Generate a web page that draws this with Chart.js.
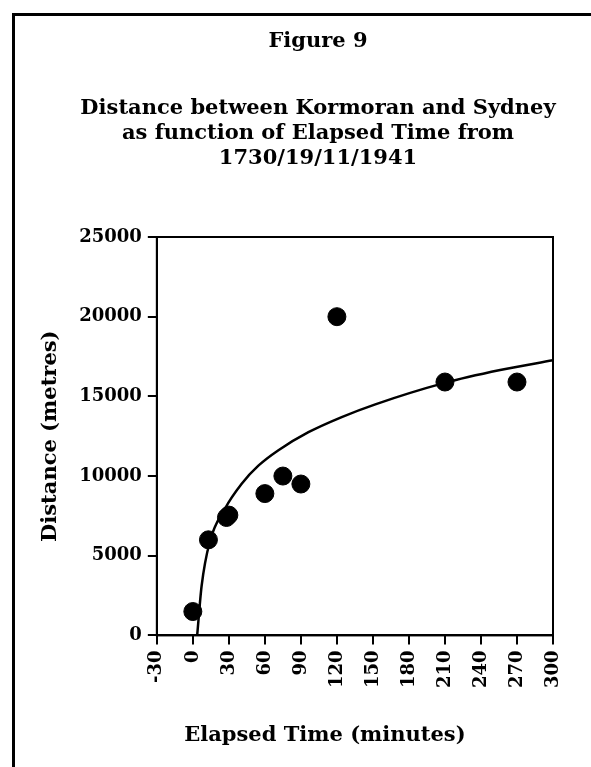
<!DOCTYPE html>
<html>
<head>
<meta charset="utf-8">
<script src="https://cdn.jsdelivr.net/npm/chart.js@4/dist/chart.umd.min.js"></script>
<style>
  html, body { margin: 0; padding: 0; background: #fff; }
  #wrap { position: relative; width: 591px; height: 767px; overflow: hidden; }
  #frame { position: absolute; left: 12px; top: 13px; width: 700px; height: 900px;
           border-left: 3px solid #000; border-top: 3px solid #000; }
  #fig { position: absolute; left: 0; top: 0; }
</style>
</head>
<body>
<div id="wrap">
  <div id="frame"></div>
  <canvas id="fig" width="591" height="767"></canvas>
</div>
<script>
//------------------------------------------------------------------------------
// observed distances
var times = [0, 13, 28, 30, 60, 75, 90, 120, 210, 270];
var distances = [1500, 6000, 7400, 7550, 8900, 10000, 9500, 20000, 15900, 15900];

// fitted curve
var fitTimes = [3.6, 7.3, 14, 26.7, 40.7, 54.6, 71.3, 96.3, 124, 152, 209, 256, 300];
var fitDistances = [0, 3100, 5850, 7950, 9520, 10650, 11620, 12750, 13700, 14500, 15830, 16650, 17270];

var xTicks = [-30, 0, 30, 60, 90, 120, 150, 180, 210, 240, 270, 300];
var yTicks = [0, 5000, 10000, 15000, 20000, 25000];

var figTitle = "Figure 9";
var figSubtitle = ["Distance between Kormoran and Sydney",
                   "as function of Elapsed Time from",
                   "1730/19/11/1941"];
var xTitle = "Elapsed Time (minutes)";
var yTitle = "Distance (metres)";
//------------------------------------------------------------------------------

var serif = "'DejaVu Serif', 'Liberation Serif', serif";

function pairs(xs, ys) {
  return xs.map(function(x, i) { return {x: x, y: ys[i]}; });
}

// heading block, box round the plot and x axis title.
// the original centres its headings on the page frame, not on the plot
var framePlugin = {
  id: 'frame',
  afterDraw: function(chart) {
    var ctx = chart.ctx, a = chart.chartArea;
    ctx.save();
    ctx.strokeStyle = '#000';
    ctx.lineWidth = 2;
    ctx.strokeRect(a.left, a.top, a.right - a.left, a.bottom - a.top);

    ctx.fillStyle = '#000';
    ctx.font = 'bold 21px ' + serif;
    ctx.textAlign = 'center';
    ctx.textBaseline = 'middle';
    var cx = 318;
    ctx.fillText(figTitle, cx, 42);
    figSubtitle.forEach(function(line, i) {
      ctx.fillText(line, cx, 109 + i * 25);
    });
    ctx.fillText(xTitle, (a.left + a.right) / 2 - 30, a.bottom + 100);
    ctx.restore();
  }
};

window.onload = function() {
  var ctx = document.getElementById("fig");
  var chart = new Chart(ctx, {
    type: 'scatter',
    data: {
      datasets: [{
        label: 'Observed',
        data: pairs(times, distances),
        backgroundColor: '#000',
        borderColor: '#000',
        pointRadius: 9,
        pointHoverRadius: 9
      }, {
        label: 'Fit',
        data: pairs(fitTimes, fitDistances),
        showLine: true,
        borderColor: '#000',
        borderWidth: 2.5,
        pointRadius: 0,
        cubicInterpolationMode: 'monotone',
        fill: false
      }]
    },
    options: {
      responsive: false,
      devicePixelRatio: 1,
      animation: false,
      layout: { padding: { left: 38, right: 38, top: 237, bottom: 73 } },
      plugins: {
        legend: { display: false },
        tooltip: { enabled: false }
      },
      scales: {
        x: {
          type: 'linear',
          min: -30,
          max: 300,
          afterBuildTicks: function(s) { s.ticks = xTicks.map(function(v) { return {value: v}; }); },
          ticks: {
            color: '#000',
            font: { family: serif, size: 18, weight: 'bold' },
            minRotation: 90,
            maxRotation: 90,
            padding: 6,
            callback: function(v) { return String(v); }
          },
          grid: { drawOnChartArea: false, color: '#000', lineWidth: 2, tickLength: 9 },
          border: { color: '#000', width: 2 }
        },
        y: {
          min: 0,
          max: 25000,
          afterBuildTicks: function(s) { s.ticks = yTicks.map(function(v) { return {value: v}; }); },
          ticks: {
            color: '#000',
            font: { family: serif, size: 18, weight: 'bold' },
            padding: 6,
            callback: function(v) { return String(v); }
          },
          grid: { drawOnChartArea: false, color: '#000', lineWidth: 2, tickLength: 9 },
          border: { color: '#000', width: 2 },
          title: {
            display: true,
            text: yTitle,
            color: '#000',
            font: { family: serif, size: 21, weight: 'bold' },
            padding: { top: 0, bottom: 10 }
          }
        }
      }
    },
    plugins: [framePlugin]
  });
};
</script>
</body>
</html>
